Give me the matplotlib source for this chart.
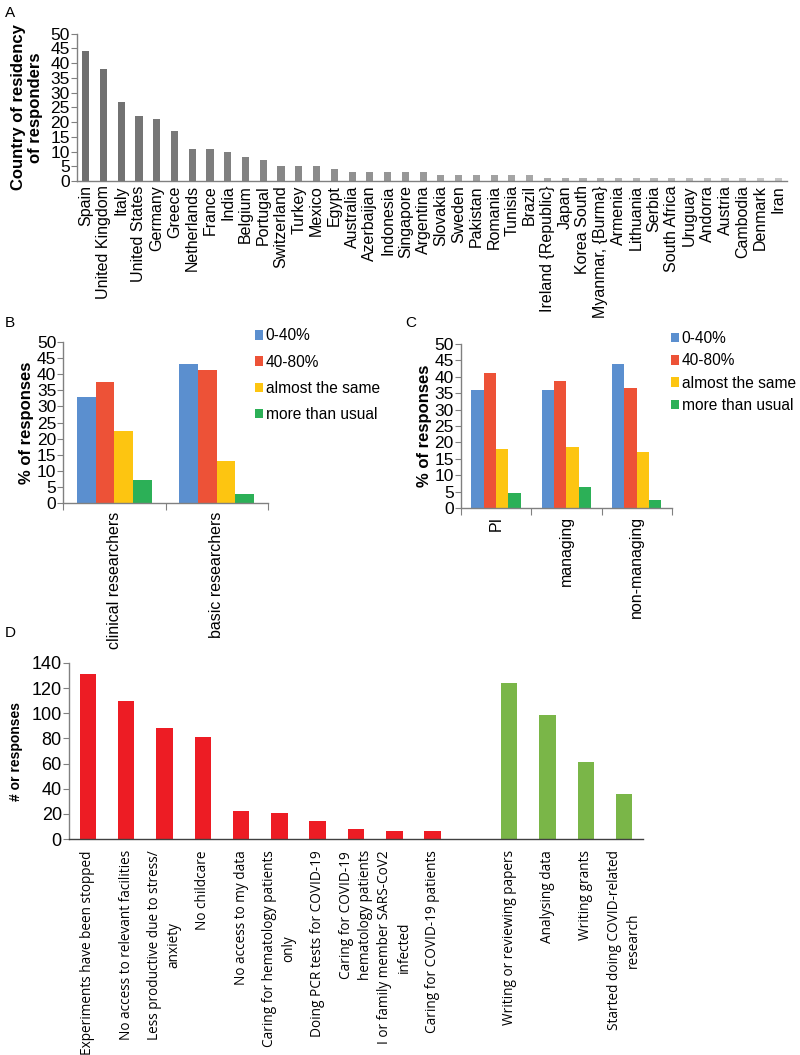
import numpy as np
import matplotlib
matplotlib.use("Agg")
import matplotlib.pyplot as plt
from matplotlib.transforms import offset_copy

plt.rcParams['font.family'] = ['Liberation Sans', 'DejaVu Sans']

# panel A
countries = ["Spain", "United Kingdom", "Italy", "United States", "Germany", "Greece",
             "Netherlands", "France", "India", "Belgium", "Portugal", "Switzerland",
             "Turkey", "Mexico", "Egypt", "Australia", "Azerbaijan", "Indonesia",
             "Singapore", "Argentina", "Slovakia", "Sweden", "Pakistan", "Romania",
             "Tunisia", "Brazil", "Ireland {Republic}", "Japan", "Korea South",
             "Myanmar, {Burma}", "Armenia", "Lithuania", "Serbia", "South Africa",
             "Uruguay", "Andorra", "Austria", "Cambodia", "Denmark", "Iran"]
country_counts = [44, 38, 27, 22, 21, 17, 11, 11, 10, 8, 7, 5, 5, 5, 4, 3, 3, 3, 3, 3,
                  2, 2, 2, 2, 2, 2, 1, 1, 1, 1, 1, 1, 1, 1, 1, 1, 1, 1, 1, 1]

# panels B and C
series = ["0-40%", "40-80%", "almost the same", "more than usual"]
series_colors = ["#5b8fcf", "#ed5237", "#fdc511", "#2cb057"]
b_groups = ["clinical researchers", "basic researchers"]
b_values = [[33.0, 43.2], [37.6, 41.3], [22.3, 12.9], [7.3, 2.7]]
c_groups = ["PI", "managing", "non-managing"]
c_values = [[36.1, 36.1, 43.9], [41.0, 38.7, 36.6], [18.0, 18.5, 17.1], [4.6, 6.4, 2.4]]

# panel D
neg_labels = ["Experiments have been stopped", "No access to relevant facilities",
              "Less productive due to stress/\nanxiety", "No childcare",
              "No access to my data", "Caring for hematology patients\nonly",
              "Doing PCR tests for COVID-19", "Caring for COVID-19\nhematology patients",
              "I or family member SARS-CoV2\ninfected", "Caring for COVID-19 patients"]
neg_values = [131, 110, 88, 81, 22, 21, 14, 8, 6, 6]
pos_labels = ["Writing or reviewing papers", "Analysing data", "Writing grants",
              "Started doing COVID-related\nresearch"]
pos_values = [124, 99, 61, 36]

fig = plt.figure(figsize=(8, 10.55), dpi=100)
spine_col = "#808080"


def style(ax):
    for s in ["top", "right"]:
        ax.spines[s].set_visible(False)
    for s in ["left", "bottom"]:
        ax.spines[s].set_color(spine_col)
        ax.spines[s].set_linewidth(1.0)
    ax.tick_params(axis="y", direction="out", length=4, color=spine_col, pad=1)


# ---- A
axA = fig.add_axes([0.096, 0.8284, 0.888, 0.1396])
xa = np.arange(len(countries))
grays = [str(g) for g in np.linspace(0.43, 0.78, len(countries))]
axA.bar(xa, country_counts, width=0.4, color=grays)
axA.set_xlim(-0.5, len(countries) - 0.5)
axA.set_ylim(0, 50)
axA.set_yticks(range(0, 51, 5))
style(axA)
axA.tick_params(axis="y", labelsize=12.5)
axA.set_xticks(xa)
axA.set_xticklabels(countries, rotation=90, fontsize=11.5)
axA.tick_params(axis="x", length=0, pad=3)
axA.set_ylabel("Country of residency\nof responders", fontsize=12, fontweight="bold",
               labelpad=5)
fig.text(0.006, 0.988, "A", fontsize=11, va="center")


def grouped(rect, groups, values, letter, lx, leg_x, leg_y, spacing):
    ax = fig.add_axes(rect)
    n = len(groups)
    w = 0.1825 if n == 2 else 0.175
    x = np.arange(n) + 0.5
    for i in range(4):
        ax.bar(x + (i - 1.5) * w, values[i], width=w, color=series_colors[i],
               label=series[i])
    ax.set_xlim(0, n)
    ax.set_ylim(0, 50)
    ax.set_yticks(range(0, 51, 5))
    style(ax)
    ax.tick_params(axis="y", labelsize=12.5)
    ax.set_xticks(range(n + 1), minor=False)
    ax.set_xticklabels([""] * (n + 1))
    ax.tick_params(axis="x", which="major", direction="out", length=5, color=spine_col)
    ax.set_xticks(x, minor=True)
    ax.set_xticklabels(groups, minor=True, rotation=90, fontsize=11.5)
    ax.tick_params(axis="x", which="minor", length=0, pad=6)
    ax.set_ylabel("% of responses", fontsize=12, fontweight="bold", labelpad=2)
    ax.legend(loc="upper left", bbox_to_anchor=(leg_x, leg_y), frameon=False,
              fontsize=11.2, handlelength=0.55, handleheight=0.55, handletextpad=0.15,
              labelspacing=spacing, borderaxespad=0, borderpad=0)
    fig.text(lx, 0.694, letter, fontsize=11, va="center")
    return ax


grouped([0.079, 0.5232, 0.256, 0.1526], b_groups, b_values, "B", 0.006,
        0.935, 1.085, 0.72)
grouped([0.576, 0.5185, 0.264, 0.1555], c_groups, c_values, "C", 0.506,
        0.995, 1.077, 0.46)

# ---- D
axD = fig.add_axes([0.086, 0.2047, 0.718, 0.1669])
xn = np.arange(len(neg_values))
xp = np.arange(len(pos_values)) + len(neg_values) + 1
axD.bar(xn, neg_values, width=0.43, color="#ed1c24")
axD.bar(xp, pos_values, width=0.43, color="#7ab648")
axD.set_xlim(-0.5, len(neg_values) + len(pos_values) + 0.5)
axD.set_ylim(0, 140)
axD.set_yticks(range(0, 141, 20))
style(axD)
axD.spines["bottom"].set_color("#404040")
axD.tick_params(axis="y", labelsize=13)
axD.set_xticks([])
axD.set_ylabel("# or responses", fontsize=10, fontweight="bold", labelpad=6)
fig.text(0.006, 0.4, "D", fontsize=11, va="center")

# category labels: each line drawn on its own, short lines centred on the long one
renderer = fig.canvas.get_renderer()
base = axD.get_xaxis_transform()
line_gap = 14.0  # points between wrapped lines
for xpos, lab in zip(list(xn) + list(xp), neg_labels + pos_labels):
    lines = lab.split("\n")
    texts = []
    for k, line in enumerate(lines):
        dx = (k - (len(lines) - 1) / 2) * line_gap
        tr = offset_copy(base, fig=fig, x=dx, y=-8, units="points")
        t = axD.text(xpos, 0, line, transform=tr, rotation=90, ha="center", va="top",
                     fontsize=9.8, family=["Open Sans", "DejaVu Sans"])
        texts.append(t)
    lens = [t.get_window_extent(renderer).height for t in texts]
    longest = max(lens)
    for t, h in zip(texts, lens):
        if h < longest:
            dy = (longest - h) / 2 * 72.0 / fig.dpi
            t.set_transform(offset_copy(t.get_transform(), fig=fig, y=-dy,
                                        units="points"))

fig.savefig("out.png", dpi=100, facecolor="white")
